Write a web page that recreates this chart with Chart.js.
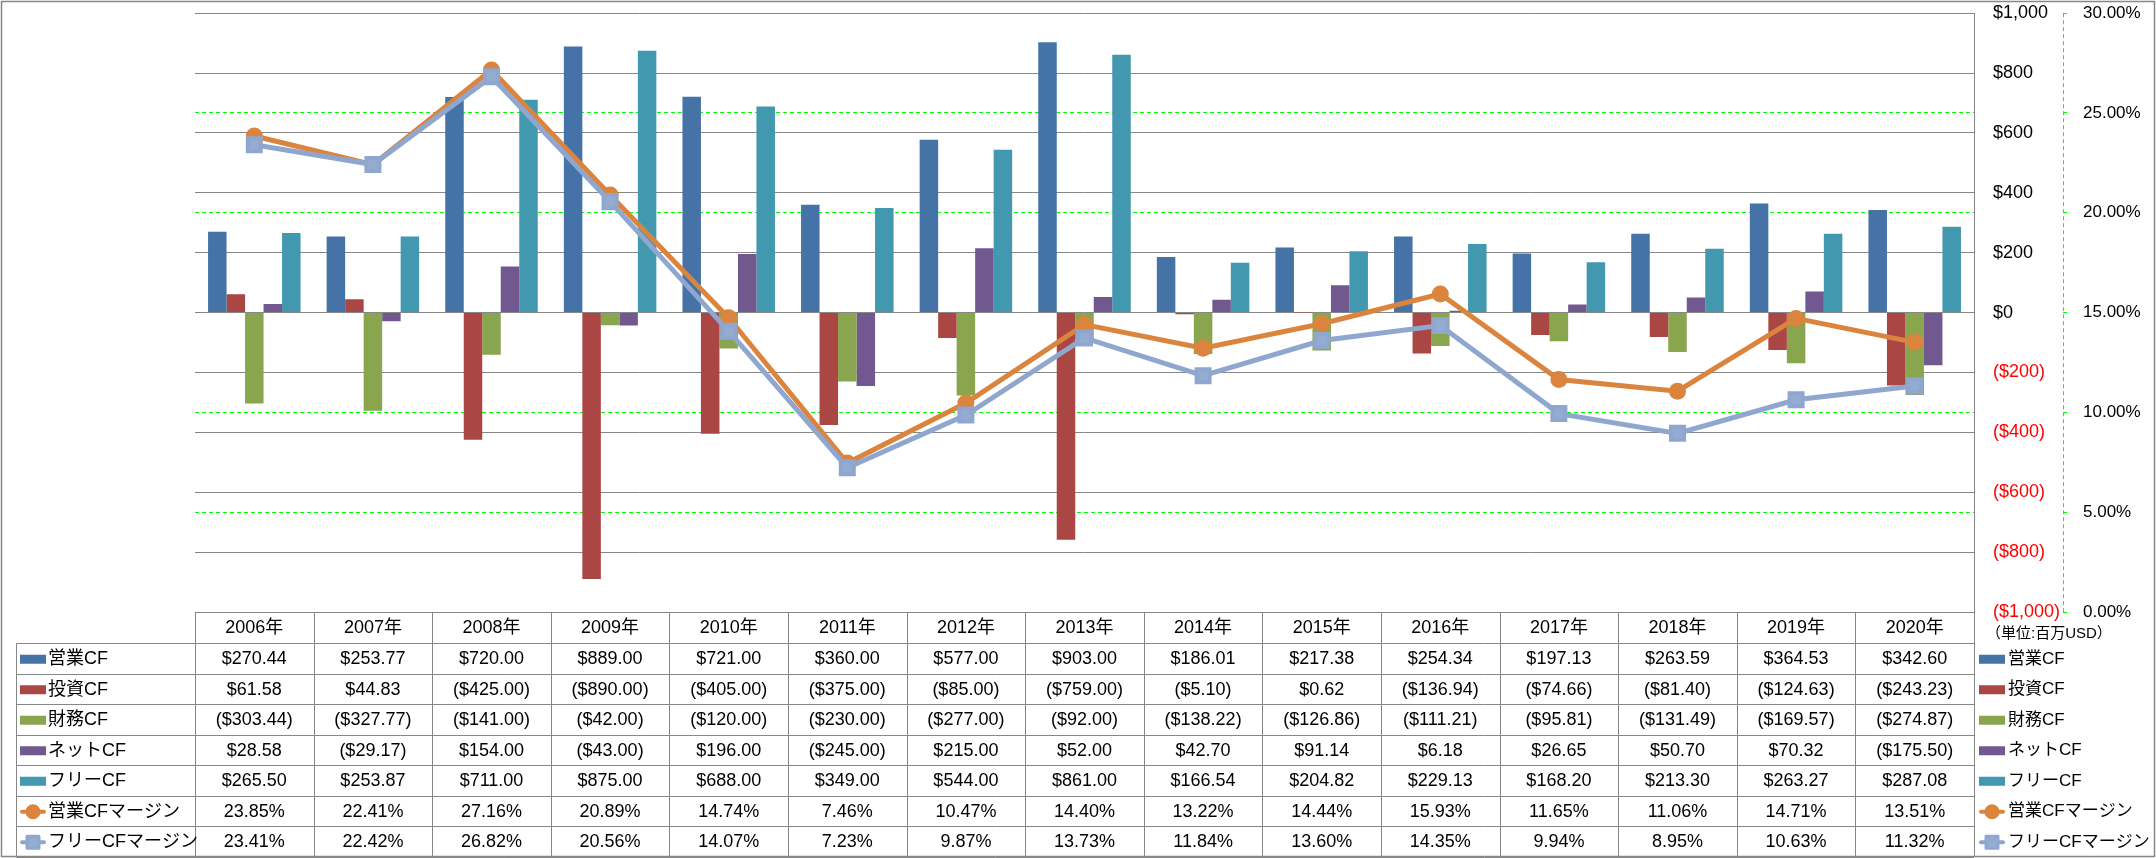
<!DOCTYPE html>
<html><head><meta charset="utf-8">
<script src="https://cdn.jsdelivr.net/npm/chart.js@4/dist/chart.umd.min.js"></script>
<style>html,body{margin:0;padding:0;background:#fff;}#wrap{width:2156px;height:858px;}</style>
</head><body><div id="wrap"><canvas id="c" width="2156" height="858"></canvas></div>
<script>
const categories = ['2006年','2007年','2008年','2009年','2010年','2011年','2012年','2013年','2014年','2015年','2016年','2017年','2018年','2019年','2020年'];
const opCF   = [270.44, 253.77, 720.00, 889.00, 721.00, 360.00, 577.00, 903.00, 186.01, 217.38, 254.34, 197.13, 263.59, 364.53, 342.60];
const invCF  = [61.58, 44.83, -425.00, -890.00, -405.00, -375.00, -85.00, -759.00, -5.10, 0.62, -136.94, -74.66, -81.40, -124.63, -243.23];
const finCF  = [-303.44, -327.77, -141.00, -42.00, -120.00, -230.00, -277.00, -92.00, -138.22, -126.86, -111.21, -95.81, -131.49, -169.57, -274.87];
const netCF  = [28.58, -29.17, 154.00, -43.00, 196.00, -245.00, 215.00, 52.00, 42.70, 91.14, 6.18, 26.65, 50.70, 70.32, -175.50];
const freeCF = [265.50, 253.87, 711.00, 875.00, 688.00, 349.00, 544.00, 861.00, 166.54, 204.82, 229.13, 168.20, 213.30, 263.27, 287.08];
const opMargin   = [23.85, 22.41, 27.16, 20.89, 14.74, 7.46, 10.47, 14.40, 13.22, 14.44, 15.93, 11.65, 11.06, 14.71, 13.51];
const freeMargin = [23.41, 22.42, 26.82, 20.56, 14.07, 7.23, 9.87, 13.73, 11.84, 13.60, 14.35, 9.94, 8.95, 10.63, 11.32];
const seriesNames = ['営業CF','投資CF','財務CF','ネットCF','フリーCF','営業CFマージン','フリーCFマージン'];
const dollarAxis = {min: -1000, max: 1000, step: 200};
const percentAxis = {min: 0, max: 30, step: 5};
const unitLabel = '（単位:百万USD）';

const FONT = "'Liberation Sans', 'Noto Sans CJK JP', sans-serif";
const GRID = '#878787';
const colors = ['#4572A7','#AA4643','#89A54E','#71588F','#4198AF','#DB843D','#8FA7CF'];

function fmtMoney(v){
  const s = '$' + Math.abs(v).toLocaleString('en-US',{minimumFractionDigits:2, maximumFractionDigits:2});
  return v < 0 ? '(' + s + ')' : s;
}
function fmtAxisMoney(v){
  const s = '$' + Math.abs(v).toLocaleString('en-US');
  return v < 0 ? '(' + s + ')' : s;
}
function fmtPct(v){ return v.toFixed(2) + '%'; }
function noPad(s){ s.paddingTop = 0; s.paddingBottom = 0; s.paddingLeft = 0; s.paddingRight = 0; }

const barSets = [opCF, invCF, finCF, netCF, freeCF].map((d,i)=>({
  type:'bar', label: seriesNames[i], data: d, backgroundColor: colors[i], yAxisID:'y',
  barPercentage: 1, categoryPercentage: 0.78, order: 0, fmt: fmtMoney, kind:'bar'
}));
const lineSets = [
  {type:'line', label: seriesNames[5], data: opMargin, yAxisID:'y1', borderColor: colors[5], backgroundColor: colors[5],
   borderWidth: 5, pointStyle:'circle', pointRadius: 8.5, pointBorderWidth: 0, pointHoverRadius: 8.5, tension: 0, order: -1, fmt: fmtPct, kind:'line'},
  {type:'line', label: seriesNames[6], data: freeMargin, yAxisID:'y1', borderColor: colors[6], backgroundColor: '#94ABD2',
   borderWidth: 5, pointStyle:'rect', pointRadius: 9.2, pointBorderWidth: 4, pointBorderColor: colors[6], pointHoverRadius: 9.2, tension: 0, order: -2, fmt: fmtPct, kind:'line'}
];
const datasets = barSets.concat(lineSets);

function drawKey(ctx, x0, x1, yc, ds){
  if (ds.kind === 'bar'){
    ctx.fillStyle = ds.backgroundColor;
    ctx.fillRect(x0, yc - 4.5, x1 - x0, 9);
  } else {
    ctx.save();
    ctx.strokeStyle = ds.borderColor; ctx.lineWidth = 4; ctx.lineCap = 'round';
    ctx.beginPath(); ctx.moveTo(x0 + 2, yc); ctx.lineTo(x1 - 2, yc); ctx.stroke();
    const xc = (x0 + x1) / 2;
    if (ds.pointStyle === 'circle'){
      ctx.fillStyle = ds.backgroundColor;
      ctx.beginPath(); ctx.arc(xc, yc, 7.5, 0, Math.PI*2); ctx.fill();
    } else {
      ctx.fillStyle = ds.backgroundColor; ctx.strokeStyle = ds.pointBorderColor; ctx.lineWidth = 3; ctx.lineJoin = 'round';
      ctx.beginPath(); ctx.rect(xc - 6, yc - 6, 12, 12); ctx.fill(); ctx.stroke();
    }
    ctx.restore();
  }
}

const tablePlugin = {
  id: 'tablePlugin',
  afterDraw(chart){
    const ctx = chart.ctx;
    const xs = chart.scales.x, y1 = chart.scales.y1;
    const n = categories.length;
    const catW = (xs.right - xs.left) / n;
    const top = xs.top, hdrBottom = xs.bottom, tableBottom = 856.5;
    const rowH = (tableBottom - hdrBottom) / datasets.length;
    const legendLeft = 16.5;
    const px = v => Math.round(v) + 0.5;
    ctx.save();
    ctx.strokeStyle = GRID; ctx.lineWidth = 1;
    ctx.beginPath(); ctx.moveTo(xs.left, px(top)); ctx.lineTo(xs.right, px(top)); ctx.stroke();
    for (let i = 0; i <= n; i++){
      const x = px(xs.left + i*catW);
      ctx.beginPath(); ctx.moveTo(x, top); ctx.lineTo(x, tableBottom); ctx.stroke();
    }
    ctx.beginPath(); ctx.moveTo(legendLeft, px(hdrBottom)); ctx.lineTo(legendLeft, tableBottom); ctx.stroke();
    for (let r = 0; r <= datasets.length; r++){
      const y = px(hdrBottom + r*rowH);
      ctx.beginPath(); ctx.moveTo(legendLeft, y); ctx.lineTo(xs.right, y); ctx.stroke();
    }
    ctx.textBaseline = 'middle';
    datasets.forEach((ds, r) => {
      const yc = hdrBottom + (r + 0.5)*rowH + 1;
      ctx.fillStyle = '#000'; ctx.font = '18px ' + FONT; ctx.textAlign = 'center';
      ds.data.forEach((v, i) => { ctx.fillText(ds.fmt(v), xs.left + (i + 0.5)*catW, yc); });
      drawKey(ctx, 20, 46, yc, ds);
      ctx.fillStyle = '#000'; ctx.textAlign = 'left'; ctx.font = '18px ' + FONT;
      ctx.fillText(ds.label, 48, yc);
      drawKey(ctx, 1979, 2005, yc, ds);
      ctx.fillStyle = '#000'; ctx.font = '17px ' + FONT;
      ctx.fillText(ds.label, 2008, yc);
    });
    ctx.font = '15px ' + FONT; ctx.textAlign = 'left'; ctx.fillStyle = '#000';
    ctx.fillText(unitLabel, 1986, 634);
    ctx.strokeStyle = '#00FF00'; ctx.setLineDash([4,3]);
    ctx.beginPath(); ctx.moveTo(px(y1.left), y1.top); ctx.lineTo(px(y1.left), y1.bottom); ctx.stroke();
    ctx.setLineDash([]);
    ctx.strokeStyle = GRID; ctx.lineWidth = 1.5;
    ctx.strokeRect(1.5, 1.5, 2153, 855);
    ctx.restore();
  }
};

new Chart(document.getElementById('c'), {
  type: 'bar',
  data: { labels: categories, datasets },
  options: {
    responsive: false, animation: false,
    layout: { padding: { left: 195, top: 13, right: 0, bottom: 215 } },
    plugins: { legend: { display: false }, tooltip: { enabled: false } },
    scales: {
      x: {
        type: 'category', position: 'bottom', offset: true,
        grid: { display: false, drawTicks: false }, border: { display: false },
        ticks: { color: '#000', font: { size: 18, family: FONT }, padding: 5, maxRotation: 0, autoSkip: false },
        afterFit(s){ s.height = 31; noPad(s); }
      },
      y: {
        position: 'right', min: dollarAxis.min, max: dollarAxis.max,
        grid: { color: GRID, lineWidth: 1, drawTicks: false },
        border: { display: true, color: GRID, width: 1 },
        ticks: { stepSize: dollarAxis.step, padding: 19, font: { size: 18, family: FONT },
          color: c => c.tick.value < 0 ? '#FF0000' : '#000', callback: v => fmtAxisMoney(v) },
        afterFit(s){ s.width = 89; noPad(s); }
      },
      y1: {
        position: 'right', min: percentAxis.min, max: percentAxis.max,
        grid: { color: c => (c.tick && (c.tick.value === 0 || c.tick.value === 15 || c.tick.value === 30)) ? 'rgba(0,0,0,0)' : '#00FF00',
          lineWidth: 1, drawTicks: true, tickLength: 4, tickColor: '#00FF00' },
        border: { display: false, dash: [4,3] },
        ticks: { stepSize: percentAxis.step, padding: 16, font: { size: 17, family: FONT }, color: '#000', callback: v => fmtPct(v) },
        afterFit(s){ s.width = 93; noPad(s); }
      }
    }
  },
  plugins: [tablePlugin]
});
</script></body></html>
